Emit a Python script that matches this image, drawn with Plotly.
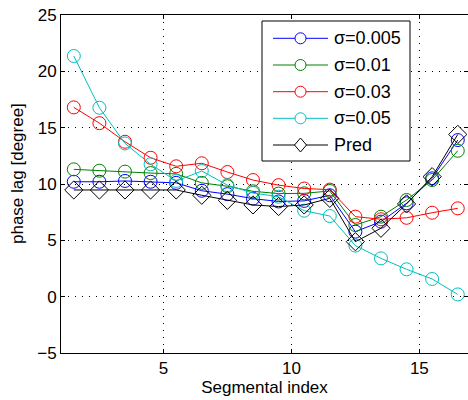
import plotly.graph_objects as go

segment = [1.5, 2.5, 3.5, 4.5, 5.5, 6.5, 7.5, 8.5, 9.5, 10.5, 11.5, 12.5, 13.5, 14.5, 15.5, 16.5]
sigma_0005 = [10.2, 10.2, 10.27, 10.2, 10.1, 9.4, 9.1, 8.7, 8.45, 8.5, 9.0, 5.77, 6.66, 8.29, 10.5, 13.9]
sigma_001 = [11.3, 11.18, 11.1, 10.97, 10.9, 10.1, 9.8, 9.35, 9.15, 9.17, 9.38, 6.36, 7.1, 8.58, 10.35, 12.95]
sigma_003 = [16.8, 15.4, 13.75, 12.33, 11.57, 11.84, 11.06, 10.35, 9.9, 9.6, 9.5, 7.1, 6.87, 7.0, 7.45, 7.84]
sigma_005 = [21.36, 16.77, 13.6, 11.75, 10.27, 11.15, 9.9, 9.2, 8.87, 7.63, 7.16, 4.53, 3.4, 2.43, 1.57, 0.2]
pred = [9.47, 9.47, 9.47, 9.47, 9.47, 9.0, 8.55, 8.14, 8.0, 8.14, 8.73, 4.88, 6.07, 8.23, 10.65, 14.4]

series_names = ["σ=0.005", "σ=0.01", "σ=0.03", "σ=0.05", "Pred"]
series_colors = ["#0000FF", "#008000", "#FF0000", "#00BFBF", "#000000"]
series_symbols = ["circle-open", "circle-open", "circle-open", "circle-open", "diamond-open"]
series_values = [sigma_0005, sigma_001, sigma_003, sigma_005, pred]

x_ticks = [5, 10, 15]
y_ticks = [-5, 0, 5, 10, 15, 20, 25]

FONT = "Liberation Sans, Arial, Helvetica, sans-serif"

W, H = 468, 400
ML, MR, MT, MB = 61, 0, 15, 47
PW, PH = W - ML - MR, H - MT - MB


def px(X):
    return (X - ML) / PW


def py(Y):
    return (H - MB - Y) / PH


fig = go.Figure()
for name, color, sym, vals in zip(series_names, series_colors, series_symbols, series_values):
    fig.add_trace(go.Scatter(
        x=segment, y=vals, name=name, mode="lines+markers",
        line=dict(color=color, width=1),
        marker=dict(symbol=sym, size=13 if sym.startswith("circle") else 14,
                    color=color, line=dict(color=color, width=1)),
        showlegend=False,
    ))

axis_common = dict(
    showline=True, linecolor="black", linewidth=1, mirror="ticks",
    ticks="inside", ticklen=4, tickcolor="black", tickwidth=1,
    showgrid=True, gridcolor="black", gridwidth=1, griddash="1px 6px",
    zeroline=False, tickfont=dict(family=FONT, size=17, color="black"),
)

fig.update_xaxes(range=[1, 16.9], tickvals=x_ticks,
                 title=dict(text="Segmental index", font=dict(family=FONT, size=17, color="black"), standoff=2),
                 **axis_common)
fig.update_yaxes(range=[-5, 25], tickvals=y_ticks, ticktext=[("−5" if v < 0 else str(v)) for v in y_ticks],
                 **axis_common)

# Manual MATLAB-style legend
shapes = [dict(type="rect", xref="paper", yref="paper",
               x0=px(262), x1=px(410), y0=py(161), y1=py(21),
               line=dict(color="black", width=1), fillcolor="white", layer="above")]
annotations = [dict(xref="paper", yref="paper", x=px(17), y=py(174),
                    xanchor="center", yanchor="middle", showarrow=False, textangle=-90,
                    text="phase lag [degree]", font=dict(family=FONT, size=17, color="black"))]
item_y = [38.3, 65.0, 91.7, 118.3, 145.0]
for name, color, sym, Y in zip(series_names, series_colors, series_symbols, item_y):
    shapes.append(dict(type="line", xref="paper", yref="paper",
                       x0=px(273), x1=px(328), y0=py(Y), y1=py(Y),
                       line=dict(color=color, width=1), layer="above"))
    if sym.startswith("circle"):
        shapes.append(dict(type="circle", xref="paper", yref="paper",
                           xsizemode="pixel", ysizemode="pixel",
                           xanchor=px(300.5), yanchor=py(Y),
                           x0=-5.5, x1=5.5, y0=-5.5, y1=5.5,
                           line=dict(color=color, width=1), fillcolor="white", layer="above"))
    else:
        shapes.append(dict(type="path", xref="paper", yref="paper",
                           xsizemode="pixel", ysizemode="pixel",
                           xanchor=px(300.5), yanchor=py(Y),
                           path="M 0 -7 L 6 0 L 0 7 L -6 0 Z",
                           line=dict(color=color, width=1), fillcolor="white", layer="above"))
    annotations.append(dict(xref="paper", yref="paper", x=px(332), y=py(Y),
                            xanchor="left", yanchor="middle", showarrow=False,
                            text=name, font=dict(family=FONT, size=18, color="black")))

fig.update_layout(
    width=W, height=H,
    margin=dict(l=ML, r=MR, t=MT, b=MB),
    paper_bgcolor="white", plot_bgcolor="white",
    font=dict(family=FONT, size=17, color="black"),
    showlegend=False,
    shapes=shapes, annotations=annotations,
)

fig.write_html("out.html", config={"displayModeBar": False},
               post_script="document.body.style.margin='0px';document.body.style.overflow='hidden';")
